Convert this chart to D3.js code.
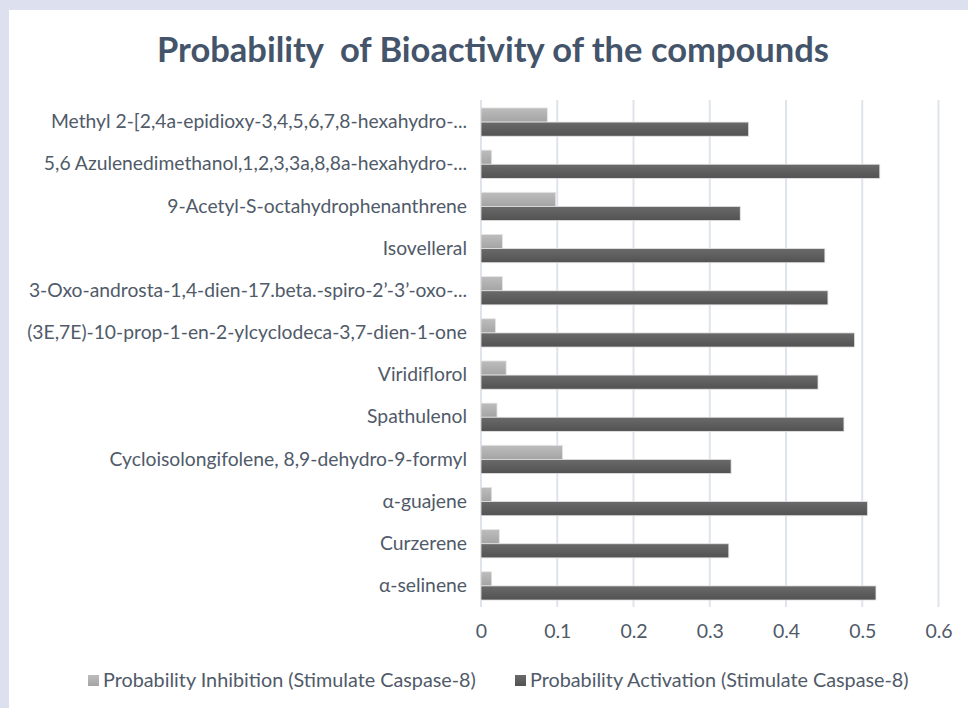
<!DOCTYPE html>
<html>
<head>
<meta charset="utf-8">
<script src="https://cdn.jsdelivr.net/npm/d3@7"></script>
<style>
  body { margin: 0; background: #dce0ef; }
  svg { display: block; }
  text { font-family: Lato, "Open Sans", sans-serif; }
</style>
</head>
<body>
<div id="grafico"></div>
<script>
// compounds, top to bottom as in the chart
const compounds = [
    "Methyl 2-[2,4a-epidioxy-3,4,5,6,7,8-hexahydro-...",
    "5,6 Azulenedimethanol,1,2,3,3a,8,8a-hexahydro-...",
    "9-Acetyl-S-octahydrophenanthrene",
    "Isovelleral",
    "3-Oxo-androsta-1,4-dien-17.beta.-spiro-2’-3’-oxo-...",
    "(3E,7E)-10-prop-1-en-2-ylcyclodeca-3,7-dien-1-one",
    "Viridiflorol",
    "Spathulenol",
    "Cycloisolongifolene, 8,9-dehydro-9-formyl",
    "α-guajene",
    "Curzerene",
    "α-selinene"
];
const inhibition = [0.087, 0.014, 0.098, 0.028, 0.028, 0.019, 0.033, 0.021, 0.107, 0.014, 0.024, 0.014];
const activation = [0.351, 0.523, 0.340, 0.451, 0.455, 0.490, 0.442, 0.476, 0.328, 0.507, 0.325, 0.518];
const seriesNames = ["Probability Inhibition (Stimulate Caspase-8)", "Probability Activation (Stimulate Caspase-8)"];
const xTicks = [0, 0.1, 0.2, 0.3, 0.4, 0.5, 0.6];

const W = 968, H = 708;
const plot = { left: 481, right: 938.5, top: 101, bottom: 607 };
const textColor = "#505a69";

const svg = d3.select("#grafico")
              .append("svg")
              .attr("width", W)
              .attr("height", H);

// white chart panel
svg.append("rect")
   .attr("x", 9).attr("y", 10)
   .attr("width", W - 9).attr("height", H - 10)
   .attr("fill", "#ffffff");

const defs = svg.append("defs");
const grads = [["gInh", "#bdbdbd", "#a4a4a4"], ["gAct", "#6a6a6a", "#525252"]];
grads.forEach(([id, c1, c2]) => {
    const g = defs.append("linearGradient")
                  .attr("id", id)
                  .attr("x1", 0).attr("y1", 0)
                  .attr("x2", 0).attr("y2", 1);
    g.append("stop").attr("offset", "0%").attr("stop-color", c1);
    g.append("stop").attr("offset", "100%").attr("stop-color", c2);
});

const xScale = d3.scaleLinear()
                 .domain([0, 0.6])
                 .range([plot.left, plot.right]);

const yScale = d3.scaleBand()
                 .domain(compounds)
                 .range([plot.top, plot.bottom])
                 .paddingInner(0.33)
                 .paddingOuter(0.165);

const subScale = d3.scaleBand()
                   .domain([0, 1])
                   .range([0, yScale.bandwidth()]);

// title
svg.append("text")
   .attr("x", 493)
   .attr("y", 62)
   .attr("text-anchor", "middle")
   .attr("font-size", "34.5px")
   .attr("font-weight", "bold")
   .attr("fill", "#44546a")
   .style("white-space", "pre")
   .text("Probability  of Bioactivity of the compounds");

// gridlines
svg.append("g")
   .selectAll("line")
   .data(xTicks)
   .join("line")
   .attr("x1", d => xScale(d)).attr("x2", d => xScale(d))
   .attr("y1", plot.top - 1).attr("y2", plot.bottom)
   .attr("stroke", "#dfe3ec")
   .attr("stroke-width", 2);

// x axis labels
const xAxisCall = d3.axisBottom(xScale)
                    .tickValues(xTicks)
                    .tickFormat(d => d === 0 ? "0" : d3.format(".1f")(d))
                    .tickSize(0)
                    .tickPadding(0);

const xAxis = svg.append("g")
                 .attr("transform", `translate(0, 624)`)
                 .call(xAxisCall);
xAxis.select(".domain").remove();
xAxis.selectAll("text")
     .attr("font-size", "19.5px")
     .attr("fill", textColor)
     .attr("font-family", "Lato, sans-serif");

// category labels
const yAxisCall = d3.axisLeft(yScale)
                    .tickSize(0)
                    .tickPadding(0);
const yAxis = svg.append("g")
                 .attr("transform", `translate(467, 0)`)
                 .call(yAxisCall);
yAxis.select(".domain").remove();
yAxis.selectAll("text")
     .attr("font-size", "19.3px")
     .attr("fill", textColor)
     .attr("font-family", "Lato, sans-serif");

// bars
const series = [inhibition, activation];
series.forEach((values, i) => {
    svg.append("g")
       .selectAll("rect")
       .data(compounds.map((c, j) => ({ name: c, value: values[j] })))
       .join("rect")
       .attr("x", xScale(0))
       .attr("y", d => yScale(d.name) + subScale(i))
       .attr("width", d => xScale(d.value) - xScale(0))
       .attr("height", subScale.bandwidth())
       .attr("fill", `url(#${grads[i][0]})`)
       .attr("stroke", "#e4e4e4")
       .attr("stroke-width", 0.8);
});

// legend
const legendX = [88, 515];
const legend = svg.append("g");
seriesNames.forEach((name, i) => {
    legend.append("rect")
          .attr("x", legendX[i]).attr("y", 675)
          .attr("width", 11).attr("height", 11)
          .attr("fill", `url(#${grads[i][0]})`);
    legend.append("text")
          .attr("x", legendX[i] + 15)
          .attr("y", 687)
          .attr("font-size", "19.8px")
          .attr("fill", textColor)
          .text(name);
});
</script>
</body>
</html>
